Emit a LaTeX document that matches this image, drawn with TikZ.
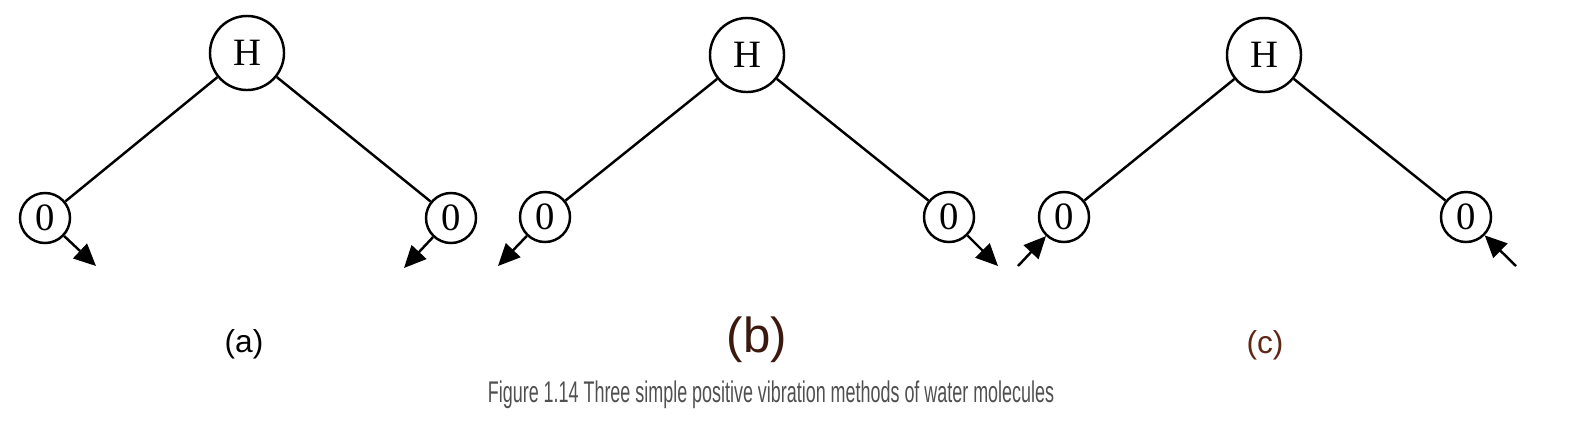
\documentclass[tikz,border=0pt]{standalone}
\usepackage{fontspec}
\setmainfont{Liberation Serif}
\setsansfont{Liberation Sans}
\usetikzlibrary{arrows.meta, positioning}
\definecolor{capgray}{RGB}{80,80,80}
\definecolor{labbrown}{RGB}{60,25,15}
\definecolor{labrust}{RGB}{95,40,20}

\begin{document}
\begin{tikzpicture}[x=0.01cm, y=-0.01cm,
    hatom/.style={circle, draw, line width=0.7pt, minimum size=0.74cm, inner sep=0pt, font=\fontsize{11}{11}\selectfont},
    oatom/.style={circle, draw, line width=0.7pt, minimum size=0.5cm, inner sep=0pt, font=\fontsize{11}{11}\selectfont},
    bond/.style={line width=0.7pt},
    vib/.style={-{Triangle[length=2.2mm, width=2mm]}, line width=0.7pt},
    panel/.style={font=\sffamily\fontsize{9}{9}\selectfont}
]
\useasboundingbox (0,0) rectangle (1596,439);

% Panel (a) - both O move outward-down
\node[hatom] (a-h) at (247,53) {H};
\node[oatom] (a-l) at (45,218) {0};
\node[oatom] (a-r) at (451,218) {0};
\draw[bond] (a-h) -- (a-l);
\draw[bond] (a-h) -- (a-r);
\coordinate (a-lt) at (96,266);
\coordinate (a-rt) at (404,268);
\draw[vib] (a-l) -- (a-lt);
\draw[vib] (a-r) -- (a-rt);

% Panel (b)
\node[hatom] (b-h) at (747,55) {H};
\node[oatom] (b-l) at (545,217) {0};
\node[oatom] (b-r) at (949,217) {0};
\draw[bond] (b-h) -- (b-l);
\draw[bond] (b-h) -- (b-r);
\coordinate (b-lt) at (498,266);
\coordinate (b-rt) at (998,266);
\draw[vib] (b-l) -- (b-lt);
\draw[vib] (b-r) -- (b-rt);

% Panel (c) - arrows pointing in
\node[hatom] (c-h) at (1264,55) {H};
\node[oatom] (c-l) at (1064,217) {0};
\node[oatom] (c-r) at (1466,217) {0};
\draw[bond] (c-h) -- (c-l);
\draw[bond] (c-h) -- (c-r);
\coordinate (c-lt) at (1018,266);
\coordinate (c-rt) at (1516,266);
\draw[vib] (c-lt) -- (c-l);
\draw[vib] (c-rt) -- (c-r);

% Labels
\node[panel, text=black] (a-lab) at (244,344) {(a)};
\node[panel, text=labbrown, font=\sffamily\fontsize{14}{14}\selectfont] (b-lab) at (757,340) {(b)};
\node[panel, text=labrust] (c-lab) at (1265,345) {(c)};

% Caption
\node[text=capgray, font=\sffamily\fontsize{8.5}{8.5}\selectfont, xscale=0.6] (cap) at (771,395) {Figure 1.14 Three simple positive vibration methods of water molecules};
\end{tikzpicture}
\end{document}
